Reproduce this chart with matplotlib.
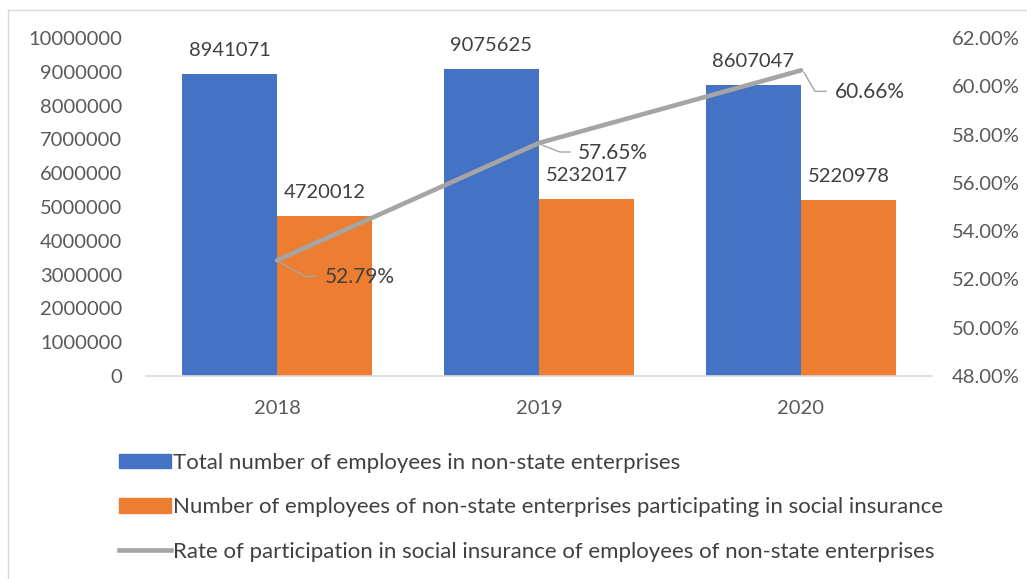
import matplotlib
matplotlib.use("Agg")
import matplotlib.pyplot as plt
from matplotlib.lines import Line2D
from matplotlib.patches import Patch, Rectangle
import numpy as np

plt.rcParams['font.family'] = ['Lato', 'DejaVu Sans']

years = ['2018', '2019', '2020']
total_employees = [8941071, 9075625, 8607047]
insured_employees = [4720012, 5232017, 5220978]
participation_rate = [52.79, 57.65, 60.66]

legend_labels = [
    'Total number of employees in non-state enterprises',
    'Number of employees of non-state enterprises participating in social insurance',
    'Rate of participation in social insurance of employees of non-state enterprises',
]

blue = '#4472C4'
orange = '#ED7D31'
gray = '#A5A5A5'
tick_color = '#595959'
label_color = '#404040'
fs = 14.5
legend_fs = 16

W, H = 1027, 579
fig = plt.figure(figsize=(W / 100, H / 100), dpi=100)

# plot area in pixels (image coords)
left, right, top, bottom = 146, 932, 38, 376
ax = fig.add_axes([left / W, 1 - bottom / H, (right - left) / W, (bottom - top) / H])
ax2 = ax.twinx()

x = np.arange(len(years))
bw = 0.363
ax.bar(x - bw / 2, total_employees, bw, color=blue, zorder=2)
ax.bar(x + bw / 2, insured_employees, bw, color=orange, zorder=2)

for xi, v in zip(x - bw / 2, total_employees):
    ax.annotate(str(v), (xi, v), xytext=(0, 18), textcoords='offset pixels',
                ha='center', va='baseline', fontsize=fs, color=label_color)
for xi, v in zip(x + bw / 2, insured_employees):
    ax.annotate(str(v), (xi, v), xytext=(0, 18), textcoords='offset pixels',
                ha='center', va='baseline', fontsize=fs, color=label_color)

ax.set_xlim(-0.5, len(years) - 0.5)
ax.set_ylim(0, 10000000)
ax.set_yticks(np.arange(0, 10000001, 1000000))
ax.set_yticklabels([str(v) for v in range(0, 10000001, 1000000)])
ax.set_xticks(x)
ax.set_xticklabels(years)
ax.tick_params(axis='y', length=0, pad=17, labelsize=fs, labelcolor=tick_color)
ax.tick_params(axis='x', length=0, pad=17, labelsize=fs, labelcolor=tick_color)
for s in ['top', 'right', 'left']:
    ax.spines[s].set_visible(False)
ax.spines['bottom'].set_color('#D9D9D9')
ax.spines['bottom'].set_linewidth(1.2)

ax2.plot(x, participation_rate, color=gray, linewidth=3.3, solid_capstyle='round', zorder=3)
ax2.set_ylim(48, 62)
ax2.set_yticks(np.arange(48, 62.1, 2))
ax2.set_yticklabels([f'{v:.2f}%' for v in np.arange(48, 62.1, 2)])
ax2.tick_params(axis='y', length=0, pad=14, labelsize=fs, labelcolor=tick_color)
for s in ax2.spines.values():
    s.set_visible(False)

# leader lines + labels for the rate (offsets in pixels: corner, end, text)
leaders = [((28, -16), (39, -16), (48, -17)),
           ((21, -9), (31, -9), (39, -10)),
           ((14, -21), (25, -21), (34, -22))]
for xi, v, (c, e, t) in zip(x, participation_rate, leaders):
    px, py = ax2.transData.transform((xi, v))
    fig.add_artist(Line2D([px + 3, px + c[0], px + e[0]], [py - 2, py + c[1], py + e[1]],
                          transform=None, color=gray, linewidth=1.0))
    fig.text((px + t[0]) / W, (py + t[1]) / H, f'{v:.2f}%', ha='left', va='center',
             fontsize=fs + 0.5, color=label_color)

handles = [Patch(color=blue), Patch(color=orange),
           Line2D([0], [0], color=gray, linewidth=3.3)]
fig.legend(handles, legend_labels, loc='upper left', bbox_to_anchor=(110 / W, 1 - 444 / H),
           frameon=False, fontsize=legend_fs, labelcolor=label_color, handlelength=2.35,
           handleheight=0.63, handletextpad=0.1, labelspacing=1.1, borderaxespad=0)

# chart border (only top/left visible in the crop)
fig.add_artist(Rectangle((8 / W, -0.1), 1.2, 1 - 10 / H + 0.1, transform=fig.transFigure,
                         fill=False, edgecolor='#D9D9D9', linewidth=1.0))

fig.savefig('out.png', dpi=100)
